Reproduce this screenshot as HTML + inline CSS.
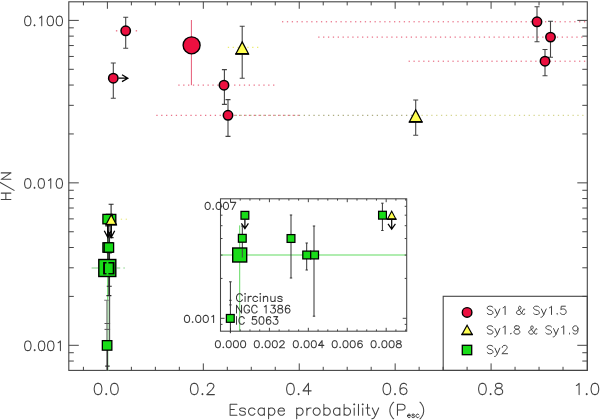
<!DOCTYPE html>
<html><head><meta charset="utf-8"><title>H/N vs escape probability</title>
<style>html,body{margin:0;padding:0;background:#fff;font-family:"Liberation Sans",sans-serif}svg{display:block}</style>
</head><body>
<svg width="600" height="420" viewBox="0 0 600 420">
<rect width="600" height="420" fill="#fff"/>
<rect x="443.2" y="296.3" width="144.1" height="74.1" fill="#fff" stroke="#454545" stroke-width="1.1"/>
<g id="dots">
<rect x="115.9" y="30.3" width="1.4" height="1.1" fill="#e4506c"/><rect x="135.7" y="30.3" width="1.4" height="1.1" fill="#e4506c"/>
<line x1="178.3" y1="85.1" x2="222" y2="85.1" stroke="#e4506c" stroke-width="1.0" stroke-dasharray="1.3 3.57" opacity="1"/>
<line x1="234.1" y1="85.1" x2="275.5" y2="85.1" stroke="#e4506c" stroke-width="1.0" stroke-dasharray="1.3 3.57" opacity="1"/>
<line x1="156.3" y1="115.3" x2="301" y2="115.3" stroke="#e4506c" stroke-width="1.0" stroke-dasharray="1.3 3.57" opacity="1"/>
<line x1="235.5" y1="115.3" x2="412" y2="115.3" stroke="#8c8c50" stroke-width="1.0" stroke-dasharray="1.3 3.57" opacity="0.9"/>
<line x1="421.5" y1="115.3" x2="584" y2="115.3" stroke="#c9c96e" stroke-width="1.0" stroke-dasharray="1.3 3.57" opacity="0.95"/>
<line x1="227.8" y1="47.3" x2="260" y2="47.3" stroke="#e6e64a" stroke-width="1.0" stroke-dasharray="1.3 3.57" opacity="1"/>
<line x1="282" y1="21.8" x2="586.3" y2="21.8" stroke="#e4506c" stroke-width="1.0" stroke-dasharray="1.3 3.57" opacity="1"/>
<line x1="318.2" y1="37.1" x2="586.3" y2="37.1" stroke="#e4506c" stroke-width="1.0" stroke-dasharray="1.3 3.57" opacity="1"/>
<line x1="408.6" y1="61.2" x2="586.3" y2="61.2" stroke="#e4506c" stroke-width="1.0" stroke-dasharray="1.3 3.57" opacity="1"/>
<line x1="120.8" y1="219.2" x2="128" y2="219.2" stroke="#e6e670" stroke-width="1.0" stroke-dasharray="1.3 3.57" opacity="1"/>
</g>
<g stroke="#454545" stroke-width="1.0" fill="none">
<rect x="68.8" y="1.8" width="518.5" height="368.6" stroke-width="1.1"/>
<path d="M83.42,370.4v-3.6M83.42,1.8v3.6M107.4,370.4v-7M107.4,1.8v7M131.38,370.4v-3.6M131.38,1.8v3.6M155.36,370.4v-3.6M155.36,1.8v3.6M179.34,370.4v-3.6M179.34,1.8v3.6M203.32,370.4v-7M203.32,1.8v7M227.3,370.4v-3.6M227.3,1.8v3.6M251.28,370.4v-3.6M251.28,1.8v3.6M275.26,370.4v-3.6M275.26,1.8v3.6M299.24,370.4v-7M299.24,1.8v7M323.22,370.4v-3.6M323.22,1.8v3.6M347.2,370.4v-3.6M347.2,1.8v3.6M371.18,370.4v-3.6M371.18,1.8v3.6M395.16,370.4v-7M395.16,1.8v7M419.14,370.4v-3.6M419.14,1.8v3.6M443.12,370.4v-3.6M443.12,1.8v3.6M467.1,370.4v-3.6M467.1,1.8v3.6M491.08,370.4v-7M491.08,1.8v7M515.06,370.4v-3.6M515.06,1.8v3.6M539.04,370.4v-3.6M539.04,1.8v3.6M563.02,370.4v-3.6M563.02,1.8v3.6M68.8,361.04h5M587.3,361.04h-5M68.8,352.73h5M587.3,352.73h-5M68.8,345.3h10M587.3,345.3h-10M68.8,296.4h5M587.3,296.4h-5M68.8,267.79h5M587.3,267.79h-5M68.8,247.5h5M587.3,247.5h-5M68.8,231.75h5M587.3,231.75h-5M68.8,218.89h5M587.3,218.89h-5M68.8,208.01h5M587.3,208.01h-5M68.8,198.59h5M587.3,198.59h-5M68.8,190.28h5M587.3,190.28h-5M68.8,182.85h10M587.3,182.85h-10M68.8,133.95h5M587.3,133.95h-5M68.8,105.34h5M587.3,105.34h-5M68.8,85.05h5M587.3,85.05h-5M68.8,69.3h5M587.3,69.3h-5M68.8,56.44h5M587.3,56.44h-5M68.8,45.56h5M587.3,45.56h-5M68.8,36.14h5M587.3,36.14h-5M68.8,27.83h5M587.3,27.83h-5M68.8,20.4h10M587.3,20.4h-10"/>
</g>
<line x1="191.4" y1="20" x2="191.4" y2="85.2" stroke="#e65a76" stroke-width="1"/>
<path d="M125.7,17.2V48.3M123.2,17.2h5M123.2,48.3h5" stroke="#444" stroke-width="1.1" fill="none"/>
<path d="M113.3,63V98.3M110.8,63h5M110.8,98.3h5" stroke="#444" stroke-width="1.1" fill="none"/>
<path d="M224.4,69.6V104.4M221.9,69.6h5M221.9,104.4h5" stroke="#444" stroke-width="1.1" fill="none"/>
<path d="M228,99.6V136.4M225.5,99.6h5M225.5,136.4h5" stroke="#444" stroke-width="1.1" fill="none"/>
<path d="M242.2,26.3V78.3M239.7,26.3h5M239.7,78.3h5" stroke="#444" stroke-width="1.1" fill="none"/>
<path d="M537,6.7V41.7M534.5,6.7h5M534.5,41.7h5" stroke="#444" stroke-width="1.1" fill="none"/>
<path d="M550.5,21.3V57.2M548,21.3h5M548,57.2h5" stroke="#444" stroke-width="1.1" fill="none"/>
<path d="M545,49.5V75.8M542.5,49.5h5M542.5,75.8h5" stroke="#444" stroke-width="1.1" fill="none"/>
<path d="M415.7,100V135.3M413.2,100h5M413.2,135.3h5" stroke="#444" stroke-width="1.1" fill="none"/>
<circle cx="125.7" cy="30.8" r="4.7" fill="#ec1040" stroke="#000" stroke-width="1.5"/>
<circle cx="113.3" cy="78.2" r="4.7" fill="#ec1040" stroke="#000" stroke-width="1.5"/>
<path d="M118.5,78.2H127.6M122,74.8L127.8,78.2L122,81.6" stroke="#000" stroke-width="1.3" fill="none"/>
<circle cx="191.6" cy="45.3" r="8.5" fill="#ec1040" stroke="#000" stroke-width="1.35"/>
<circle cx="224" cy="85.2" r="4.7" fill="#ec1040" stroke="#000" stroke-width="1.5"/>
<circle cx="228" cy="115.3" r="4.7" fill="#ec1040" stroke="#000" stroke-width="1.5"/>
<circle cx="537" cy="21.8" r="4.7" fill="#ec1040" stroke="#000" stroke-width="1.5"/>
<circle cx="550.5" cy="37.1" r="4.7" fill="#ec1040" stroke="#000" stroke-width="1.5"/>
<circle cx="545" cy="61.2" r="4.7" fill="#ec1040" stroke="#000" stroke-width="1.5"/>
<path d="M242.2,41.9L248.5,53.8H235.9Z" fill="#ffff50" stroke="#000" stroke-width="1.25" stroke-linejoin="miter"/>
<path d="M235.4,53.9H249" stroke="#000" stroke-width="1.75" fill="none"/>
<path d="M415.7,109.9L422,121.8H409.4Z" fill="#ffff50" stroke="#000" stroke-width="1.25" stroke-linejoin="miter"/>
<path d="M408.9,121.9H422.5" stroke="#000" stroke-width="1.75" fill="none"/>
<rect x="106.6" y="300.5" width="3" height="40" fill="#d4ead4"/>
<path d="M107.8,231.7V300" stroke="#55d855" stroke-width="1.1" fill="none"/>
<path d="M107.9,300V370.4" stroke="#9fd89f" stroke-width="1.2" fill="none"/>
<path d="M91.6,268h6.4M116.6,268h3.6M123.4,268h1.4" stroke="#7fcf7f" stroke-width="1.1" fill="none"/>
<path d="M106.9,300.5V370.4M104.2,300.3h4.6" stroke="#777" stroke-width="1.05" fill="none"/>
<path d="M104.5,323.5h5.6M104.5,329.4h5.6" stroke="#555" stroke-width="1" fill="none"/>
<path d="M108.9,218.6V295.6M106.4,218.6h5M106.4,295.6h5" stroke="#2a2a2a" stroke-width="1.1" fill="none"/>
<path d="M109.25,253V286.3M106.75,253h5M106.75,286.3h5" stroke="#2a2a2a" stroke-width="1.1" fill="none"/>
<path d="M109.5,232.1V296" stroke="#2a2a2a" stroke-width="1.1" fill="none"/>
<path d="M109.6,296V342.7" stroke="#505050" stroke-width="1.1" fill="none"/>
<path d="M111.1,204.3V237.6M108.6,204.3h5M108.6,237.6h5" stroke="#2a2a2a" stroke-width="1.1" fill="none"/>
<path d="M107.75,226V270.1M105.25,226h5M105.25,270.1h5" stroke="#2a2a2a" stroke-width="1.1" fill="none"/>
<path d="M107.4,350V370.4M105.2,366.2h4.5" stroke="#333" stroke-width="1.2" fill="none"/>
<rect x="102.35" y="340.65" width="9.5" height="9.5" fill="#18dc18" stroke="#000" stroke-width="1.3"/>
<rect x="102.9" y="242.8" width="9.4" height="9.4" fill="#18dc18" stroke="#000" stroke-width="1.3"/>
<rect x="104.2" y="242.8" width="9.4" height="9.4" fill="#18dc18" stroke="#000" stroke-width="1.3"/>
<rect x="106.4" y="214.4" width="9.4" height="9.4" fill="#18dc18" stroke="#000" stroke-width="1.3"/>
<rect x="102.9" y="214.4" width="9.4" height="9.4" fill="#18dc18" stroke="#000" stroke-width="1.3"/>
<rect x="98.8" y="259.5" width="17" height="17" fill="#18dc18" stroke="#000" stroke-width="1.4"/>
<rect x="103.1" y="262" width="11.4" height="12.4" fill="#000"/>
<rect x="105" y="263.5" width="7.7" height="9.6" fill="#18dc18"/>
<rect x="106.5" y="261" width="1.9" height="14.4" fill="#18dc18"/>
<path d="M107.8,224V237.4M104.3,230.8L107.8,237.4L111.3,230.8" stroke="#000" stroke-width="1.3" fill="none"/>
<path d="M111.2,224V237.4M107.7,230.8L111.2,237.4L114.7,230.8" stroke="#000" stroke-width="1.3" fill="none"/>
<path d="M111.2,214.8L116.4,224.6H106Z" fill="#ffff50" stroke="#000" stroke-width="1.2" stroke-linejoin="miter"/>
<path d="M105.5,224.7H116.9" stroke="#000" stroke-width="1.7" fill="none"/>
<rect x="220.5" y="198.8" width="186.2" height="132.4" fill="#fff" stroke="none"/>
<path d="M220.5,255H406.7M239.7,225.4V331.2" stroke="#5ad85a" stroke-width="0.95" fill="none"/>
<g stroke="#454545" stroke-width="1.1" fill="none">
<rect x="220.5" y="198.8" width="186.2" height="132.4" stroke-width="1.05"/>
<path d="M230.5,331.2v-3.4M230.5,198.8v3.4M240.23,331.2v-1.8M240.23,198.8v1.8M249.96,331.2v-1.8M249.96,198.8v1.8M259.69,331.2v-1.8M259.69,198.8v1.8M269.42,331.2v-3.4M269.42,198.8v3.4M279.15,331.2v-1.8M279.15,198.8v1.8M288.88,331.2v-1.8M288.88,198.8v1.8M298.61,331.2v-1.8M298.61,198.8v1.8M308.34,331.2v-3.4M308.34,198.8v3.4M318.07,331.2v-1.8M318.07,198.8v1.8M327.8,331.2v-1.8M327.8,198.8v1.8M337.53,331.2v-1.8M337.53,198.8v1.8M347.26,331.2v-3.4M347.26,198.8v3.4M356.99,331.2v-1.8M356.99,198.8v1.8M366.72,331.2v-1.8M366.72,198.8v1.8M376.45,331.2v-1.8M376.45,198.8v1.8M386.18,331.2v-3.4M386.18,198.8v3.4M395.91,331.2v-1.8M395.91,198.8v1.8M405.64,331.2v-1.8M405.64,198.8v1.8M220.5,324.36h2M406.7,324.36h-2M220.5,318.3h4M406.7,318.3h-4M220.5,278.41h2M406.7,278.41h-2M220.5,255.08h2M406.7,255.08h-2M220.5,238.53h2M406.7,238.53h-2M220.5,225.69h2M406.7,225.69h-2M220.5,215.19h2M406.7,215.19h-2M220.5,206.32h2M406.7,206.32h-2" stroke-width="1"/>
</g>
<path d="M230.4,281.8V333.2M229.1,281.8h2.6" stroke="#333" stroke-width="1" fill="none"/>
<path d="M229.2,300.3h2.4M229.2,304.9h2.4" stroke="#333" stroke-width="1" fill="none"/>
<path d="M242.3,226V257.5M241.1,226h2.4M241.1,257.5h2.4" stroke="#333" stroke-width="1" fill="none"/>
<path d="M291,215V278M289.8,215h2.4M289.8,278h2.4" stroke="#333" stroke-width="1" fill="none"/>
<path d="M306.7,243V270M305.5,243h2.4M305.5,270h2.4" stroke="#333" stroke-width="1" fill="none"/>
<path d="M314,226V316.2M312.8,226h2.4M312.8,316.2h2.4" stroke="#333" stroke-width="1" fill="none"/>
<path d="M382.4,203.2V230.5M381.2,203.2h2.4M381.2,230.5h2.4" stroke="#333" stroke-width="1" fill="none"/>
<rect x="226.4" y="314.5" width="7.8" height="7.8" fill="#18dc18" stroke="#000" stroke-width="1.25"/>
<rect x="232.7" y="248" width="14" height="14" fill="#18dc18" stroke="#000" stroke-width="1.4"/>
<line x1="242.3" y1="249" x2="242.3" y2="257.5" stroke="#444" stroke-width="1"/>
<rect x="238.4" y="234.4" width="7.8" height="7.8" fill="#18dc18" stroke="#000" stroke-width="1.25"/>
<rect x="241" y="211.4" width="7.8" height="7.8" fill="#18dc18" stroke="#000" stroke-width="1.25"/>
<path d="M244.9,219.5V228.6M241.4,223.3L244.9,228.6L248.4,223.3" stroke="#000" stroke-width="1.2" fill="none"/>
<rect x="287.1" y="234.6" width="7.8" height="7.8" fill="#18dc18" stroke="#000" stroke-width="1.25"/>
<rect x="302.8" y="251.1" width="7.8" height="7.8" fill="#18dc18" stroke="#000" stroke-width="1.25"/>
<rect x="310.7" y="251.1" width="7.8" height="7.8" fill="#18dc18" stroke="#000" stroke-width="1.25"/>
<rect x="378.6" y="211.3" width="7.8" height="7.8" fill="#18dc18" stroke="#000" stroke-width="1.25"/>
<path d="M391.7,219.5V229.1M388,223.8L391.7,229.1L395.4,223.8" stroke="#000" stroke-width="1.2" fill="none"/>
<path d="M391.7,211.2L395.9,219.1H387.5Z" fill="#ffff50" stroke="#000" stroke-width="1.1"/><path d="M386.9,219.2H396.5" stroke="#000" stroke-width="1.5"/>
<circle cx="467.1" cy="312.4" r="4.8" fill="#ec1040" stroke="#000" stroke-width="1.4"/>
<path d="M467.1,325.3L472.2,334.4H462Z" fill="#ffff50" stroke="#000" stroke-width="1.15"/><path d="M461.4,334.5H472.8" stroke="#000" stroke-width="1.6"/>
<rect x="462.3" y="345.3" width="9.4" height="9.4" fill="#18dc18" stroke="#000" stroke-width="1.3"/>
<g fill="none" stroke="#424242" stroke-linecap="round" stroke-linejoin="round">
<path stroke-width="1.05" d="M27.31,16.14 25.95,16.6 25.05,17.98 24.6,20.28 24.6,21.66 25.05,23.96 25.95,25.34 27.31,25.8 28.21,25.8 29.56,25.34 30.47,23.96 30.92,21.66 30.92,20.28 30.47,17.98 29.56,16.6 28.21,16.14 27.31,16.14M34.53,24.88 34.08,25.34 34.53,25.8 34.98,25.34 34.53,24.88M39.49,17.98 40.39,17.52 41.75,16.14 41.75,25.8M49.87,16.14 48.51,16.6 47.61,17.98 47.16,20.28 47.16,21.66 47.61,23.96 48.51,25.34 49.87,25.8 50.77,25.8 52.12,25.34 53.03,23.96 53.48,21.66 53.48,20.28 53.03,17.98 52.12,16.6 50.77,16.14 49.87,16.14M58.89,16.14 57.54,16.6 56.63,17.98 56.18,20.28 56.18,21.66 56.63,23.96 57.54,25.34 58.89,25.8 59.79,25.8 61.15,25.34 62.05,23.96 62.5,21.66 62.5,20.28 62.05,17.98 61.15,16.6 59.79,16.14 58.89,16.14M27.31,178.64 25.95,179.1 25.05,180.48 24.6,182.78 24.6,184.16 25.05,186.46 25.95,187.84 27.31,188.3 28.21,188.3 29.56,187.84 30.47,186.46 30.92,184.16 30.92,182.78 30.47,180.48 29.56,179.1 28.21,178.64 27.31,178.64M34.53,187.38 34.08,187.84 34.53,188.3 34.98,187.84 34.53,187.38M40.84,178.64 39.49,179.1 38.59,180.48 38.14,182.78 38.14,184.16 38.59,186.46 39.49,187.84 40.84,188.3 41.75,188.3 43.1,187.84 44,186.46 44.45,184.16 44.45,182.78 44,180.48 43.1,179.1 41.75,178.64 40.84,178.64M48.51,180.48 49.42,180.02 50.77,178.64 50.77,188.3M58.89,178.64 57.54,179.1 56.63,180.48 56.18,182.78 56.18,184.16 56.63,186.46 57.54,187.84 58.89,188.3 59.79,188.3 61.15,187.84 62.05,186.46 62.5,184.16 62.5,182.78 62.05,180.48 61.15,179.1 59.79,178.64 58.89,178.64M27.35,340.94 25.98,341.4 25.06,342.78 24.6,345.08 24.6,346.46 25.06,348.76 25.98,350.14 27.35,350.6 28.27,350.6 29.65,350.14 30.57,348.76 31.03,346.46 31.03,345.08 30.57,342.78 29.65,341.4 28.27,340.94 27.35,340.94M34.7,349.68 34.24,350.14 34.7,350.6 35.16,350.14 34.7,349.68M41.12,340.94 39.75,341.4 38.83,342.78 38.37,345.08 38.37,346.46 38.83,348.76 39.75,350.14 41.12,350.6 42.04,350.6 43.42,350.14 44.34,348.76 44.79,346.46 44.79,345.08 44.34,342.78 43.42,341.4 42.04,340.94 41.12,340.94M50.3,340.94 48.93,341.4 48.01,342.78 47.55,345.08 47.55,346.46 48.01,348.76 48.93,350.14 50.3,350.6 51.22,350.6 52.6,350.14 53.52,348.76 53.97,346.46 53.97,345.08 53.52,342.78 52.6,341.4 51.22,340.94 50.3,340.94M58.11,342.78 59.02,342.32 60.4,340.94 60.4,350.6M97.5,383.37 95.87,383.9 94.78,385.5 94.23,388.18 94.23,389.79 94.78,392.46 95.87,394.06 97.5,394.6 98.59,394.6 100.23,394.06 101.32,392.46 101.86,389.79 101.86,388.18 101.32,385.5 100.23,383.9 98.59,383.37 97.5,383.37M106.22,393.53 105.68,394.06 106.22,394.6 106.77,394.06 106.22,393.53M113.85,383.37 112.22,383.9 111.13,385.5 110.58,388.18 110.58,389.79 111.13,392.46 112.22,394.06 113.85,394.6 114.94,394.6 116.58,394.06 117.67,392.46 118.22,389.79 118.22,388.18 117.67,385.5 116.58,383.9 114.94,383.37 113.85,383.37M193.71,383.37 192.07,383.9 190.98,385.5 190.44,388.18 190.44,389.79 190.98,392.46 192.07,394.06 193.71,394.6 194.8,394.6 196.43,394.06 197.52,392.46 198.06,389.79 198.06,388.18 197.52,385.5 196.43,383.9 194.8,383.37 193.71,383.37M202.43,393.53 201.88,394.06 202.43,394.6 202.97,394.06 202.43,393.53M207.33,386.04 207.33,385.5 207.88,384.44 208.42,383.9 209.51,383.37 211.69,383.37 212.78,383.9 213.33,384.44 213.87,385.5 213.87,386.58 213.33,387.65 212.24,389.25 206.79,394.6 214.42,394.6M289.9,383.37 288.27,383.9 287.18,385.5 286.63,388.18 286.63,389.79 287.18,392.46 288.27,394.06 289.9,394.6 291,394.6 292.63,394.06 293.72,392.46 294.26,389.79 294.26,388.18 293.72,385.5 292.63,383.9 291,383.37 289.9,383.37M298.62,393.53 298.08,394.06 298.62,394.6 299.17,394.06 298.62,393.53M308.44,383.37 302.99,390.86 311.16,390.86M308.44,383.37 308.44,394.6M386.3,383.37 384.67,383.9 383.58,385.5 383.03,388.18 383.03,389.79 383.58,392.46 384.67,394.06 386.3,394.6 387.39,394.6 389.03,394.06 390.12,392.46 390.66,389.79 390.66,388.18 390.12,385.5 389.03,383.9 387.39,383.37 386.3,383.37M395.02,393.53 394.48,394.06 395.02,394.6 395.57,394.06 395.02,393.53M406.47,384.97 405.92,383.9 404.29,383.37 403.2,383.37 401.56,383.9 400.47,385.5 399.93,388.18 399.93,390.86 400.47,393 401.56,394.06 403.2,394.6 403.75,394.6 405.38,394.06 406.47,393 407.01,391.39 407.01,390.86 406.47,389.25 405.38,388.18 403.75,387.65 403.2,387.65 401.56,388.18 400.47,389.25 399.93,390.86M481.9,383.37 480.27,383.9 479.18,385.5 478.63,388.18 478.63,389.79 479.18,392.46 480.27,394.06 481.9,394.6 483,394.6 484.63,394.06 485.72,392.46 486.26,389.79 486.26,388.18 485.72,385.5 484.63,383.9 483,383.37 481.9,383.37M490.62,393.53 490.08,394.06 490.62,394.6 491.17,394.06 490.62,393.53M497.71,383.37 496.07,383.9 495.53,384.97 495.53,386.04 496.07,387.11 497.17,387.65 499.35,388.18 500.98,388.72 502.07,389.79 502.62,390.86 502.62,392.46 502.07,393.53 501.52,394.06 499.89,394.6 497.71,394.6 496.07,394.06 495.53,393.53 494.99,392.46 494.99,390.86 495.53,389.79 496.62,388.72 498.25,388.18 500.44,387.65 501.52,387.11 502.07,386.04 502.07,384.97 501.52,383.9 499.89,383.37 497.71,383.37M576.37,385.5 577.46,384.97 579.1,383.37 579.1,394.6M586.73,393.53 586.18,394.06 586.73,394.6 587.27,394.06 586.73,393.53M594.36,383.37 592.72,383.9 591.63,385.5 591.09,388.18 591.09,389.79 591.63,392.46 592.72,394.06 594.36,394.6 595.45,394.6 597.08,394.06 598.17,392.46 598.72,389.79 598.72,388.18 598.17,385.5 597.08,383.9 595.45,383.37 594.36,383.37M230.11,404.28 230.11,415.2M230.11,404.28 236.96,404.28M230.11,409.48 234.32,409.48M230.11,415.2 236.96,415.2M245.39,409.48 244.86,408.44 243.28,407.92 241.7,407.92 240.12,408.44 239.59,409.48 240.12,410.52 241.18,411.04 243.81,411.56 244.86,412.08 245.39,413.12 245.39,413.64 244.86,414.68 243.28,415.2 241.7,415.2 240.12,414.68 239.59,413.64M254.88,409.48 253.82,408.44 252.77,407.92 251.19,407.92 250.13,408.44 249.08,409.48 248.55,411.04 248.55,412.08 249.08,413.64 250.13,414.68 251.19,415.2 252.77,415.2 253.82,414.68 254.88,413.64M264.36,407.92 264.36,415.2M264.36,409.48 263.31,408.44 262.25,407.92 260.67,407.92 259.62,408.44 258.57,409.48 258.04,411.04 258.04,412.08 258.57,413.64 259.62,414.68 260.67,415.2 262.25,415.2 263.31,414.68 264.36,413.64M268.58,407.92 268.58,418.84M268.58,409.48 269.63,408.44 270.69,407.92 272.27,407.92 273.32,408.44 274.38,409.48 274.9,411.04 274.9,412.08 274.38,413.64 273.32,414.68 272.27,415.2 270.69,415.2 269.63,414.68 268.58,413.64M278.06,411.04 284.39,411.04 284.39,410 283.86,408.96 283.33,408.44 282.28,407.92 280.7,407.92 279.65,408.44 278.59,409.48 278.06,411.04 278.06,412.08 278.59,413.64 279.65,414.68 280.7,415.2 282.28,415.2 283.33,414.68 284.39,413.64M296.7,407.92 296.7,418.84M296.7,409.48 297.76,408.44 298.83,407.92 300.43,407.92 301.49,408.44 302.56,409.48 303.09,411.04 303.09,412.08 302.56,413.64 301.49,414.68 300.43,415.2 298.83,415.2 297.76,414.68 296.7,413.64M306.82,407.92 306.82,415.2M306.82,411.04 307.35,409.48 308.41,408.44 309.48,407.92 311.08,407.92M315.87,407.92 314.8,408.44 313.74,409.48 313.21,411.04 313.21,412.08 313.74,413.64 314.8,414.68 315.87,415.2 317.47,415.2 318.53,414.68 319.6,413.64 320.13,412.08 320.13,411.04 319.6,409.48 318.53,408.44 317.47,407.92 315.87,407.92M323.86,404.28 323.86,415.2M323.86,409.48 324.92,408.44 325.99,407.92 327.58,407.92 328.65,408.44 329.71,409.48 330.25,411.04 330.25,412.08 329.71,413.64 328.65,414.68 327.58,415.2 325.99,415.2 324.92,414.68 323.86,413.64M339.83,407.92 339.83,415.2M339.83,409.48 338.76,408.44 337.7,407.92 336.1,407.92 335.04,408.44 333.97,409.48 333.44,411.04 333.44,412.08 333.97,413.64 335.04,414.68 336.1,415.2 337.7,415.2 338.76,414.68 339.83,413.64M344.09,404.28 344.09,415.2M344.09,409.48 345.15,408.44 346.22,407.92 347.82,407.92 348.88,408.44 349.95,409.48 350.48,411.04 350.48,412.08 349.95,413.64 348.88,414.68 347.82,415.2 346.22,415.2 345.15,414.68 344.09,413.64M353.67,404.28 354.21,404.8 354.74,404.28 354.21,403.76 353.67,404.28M354.21,407.92 354.21,415.2M358.47,404.28 358.47,415.2M362.19,404.28 362.73,404.8 363.26,404.28 362.73,403.76 362.19,404.28M362.73,407.92 362.73,415.2M367.52,404.28 367.52,413.12 368.05,414.68 369.12,415.2 370.18,415.2M365.92,407.92 369.65,407.92M372.31,407.92 375.51,415.2M378.7,407.92 375.51,415.2 374.44,417.28 373.38,418.32 372.31,418.84 371.78,418.84M393.68,402.2 392.6,403.24 391.52,404.8 390.44,406.88 389.9,409.48 389.9,411.56 390.44,414.16 391.52,416.24 392.6,417.8 393.68,418.84M397.45,404.28 397.45,415.2M397.45,404.28 402.3,404.28 403.92,404.8 404.46,405.32 405,406.36 405,407.92 404.46,408.96 403.92,409.48 402.3,410 397.45,410M419.96,402.2 421.01,403.24 422.06,404.8 423.12,406.88 423.64,409.48 423.64,411.56 423.12,414.16 422.06,416.24 421.01,417.8 419.96,418.84M1.24,199.56 10.9,199.56M1.24,193.12 10.9,193.12M5.84,199.56 5.84,193.12M-0.6,182.08 14.12,190.36M1.24,179.32 10.9,179.32M1.24,179.32 10.9,172.88M1.24,172.88 10.9,172.88"/>
<path stroke-width="1.05" stroke="#3a3a3a" d="M207.29,202.37 206.2,202.7 205.47,203.71 205.1,205.38 205.1,206.39 205.47,208.06 206.2,209.06 207.29,209.4 208.02,209.4 209.12,209.06 209.85,208.06 210.22,206.39 210.22,205.38 209.85,203.71 209.12,202.7 208.02,202.37 207.29,202.37M213.14,208.73 212.78,209.06 213.14,209.4 213.51,209.06 213.14,208.73M218.26,202.37 217.16,202.7 216.43,203.71 216.06,205.38 216.06,206.39 216.43,208.06 217.16,209.06 218.26,209.4 218.99,209.4 220.08,209.06 220.82,208.06 221.18,206.39 221.18,205.38 220.82,203.71 220.08,202.7 218.99,202.37 218.26,202.37M225.57,202.37 224.47,202.7 223.74,203.71 223.37,205.38 223.37,206.39 223.74,208.06 224.47,209.06 225.57,209.4 226.3,209.4 227.39,209.06 228.13,208.06 228.49,206.39 228.49,205.38 228.13,203.71 227.39,202.7 226.3,202.37 225.57,202.37M235.8,202.37 232.15,209.4M230.68,202.37 235.8,202.37M186.65,315.36 185.52,315.7 184.77,316.7 184.4,318.38 184.4,319.38 184.77,321.06 185.52,322.06 186.65,322.4 187.39,322.4 188.52,322.06 189.27,321.06 189.64,319.38 189.64,318.38 189.27,316.7 188.52,315.7 187.39,315.36 186.65,315.36M192.64,321.73 192.26,322.06 192.64,322.4 193.01,322.06 192.64,321.73M197.88,315.36 196.75,315.7 196.01,316.7 195.63,318.38 195.63,319.38 196.01,321.06 196.75,322.06 197.88,322.4 198.63,322.4 199.75,322.06 200.5,321.06 200.87,319.38 200.87,318.38 200.5,316.7 199.75,315.7 198.63,315.36 197.88,315.36M205.36,315.36 204.24,315.7 203.49,316.7 203.12,318.38 203.12,319.38 203.49,321.06 204.24,322.06 205.36,322.4 206.11,322.4 207.24,322.06 207.98,321.06 208.36,319.38 208.36,318.38 207.98,316.7 207.24,315.7 206.11,315.36 205.36,315.36M211.73,316.7 212.48,316.37 213.6,315.36 213.6,322.4M217.54,340.66 216.46,341 215.74,342 215.38,343.68 215.38,344.69 215.74,346.36 216.46,347.37 217.54,347.7 218.26,347.7 219.34,347.37 220.06,346.36 220.42,344.69 220.42,343.68 220.06,342 219.34,341 218.26,340.66 217.54,340.66M223.3,347.03 222.94,347.37 223.3,347.7 223.66,347.37 223.3,347.03M228.34,340.66 227.26,341 226.54,342 226.18,343.68 226.18,344.69 226.54,346.36 227.26,347.37 228.34,347.7 229.06,347.7 230.14,347.37 230.86,346.36 231.22,344.69 231.22,343.68 230.86,342 230.14,341 229.06,340.66 228.34,340.66M235.54,340.66 234.46,341 233.74,342 233.38,343.68 233.38,344.69 233.74,346.36 234.46,347.37 235.54,347.7 236.26,347.7 237.34,347.37 238.06,346.36 238.42,344.69 238.42,343.68 238.06,342 237.34,341 236.26,340.66 235.54,340.66M242.74,340.66 241.66,341 240.94,342 240.58,343.68 240.58,344.69 240.94,346.36 241.66,347.37 242.74,347.7 243.46,347.7 244.54,347.37 245.26,346.36 245.62,344.69 245.62,343.68 245.26,342 244.54,341 243.46,340.66 242.74,340.66M256.44,340.66 255.36,341 254.64,342 254.28,343.68 254.28,344.69 254.64,346.36 255.36,347.37 256.44,347.7 257.16,347.7 258.24,347.37 258.96,346.36 259.32,344.69 259.32,343.68 258.96,342 258.24,341 257.16,340.66 256.44,340.66M262.2,347.03 261.84,347.37 262.2,347.7 262.56,347.37 262.2,347.03M267.24,340.66 266.16,341 265.44,342 265.08,343.68 265.08,344.69 265.44,346.36 266.16,347.37 267.24,347.7 267.96,347.7 269.04,347.37 269.76,346.36 270.12,344.69 270.12,343.68 269.76,342 269.04,341 267.96,340.66 267.24,340.66M274.44,340.66 273.36,341 272.64,342 272.28,343.68 272.28,344.69 272.64,346.36 273.36,347.37 274.44,347.7 275.16,347.7 276.24,347.37 276.96,346.36 277.32,344.69 277.32,343.68 276.96,342 276.24,341 275.16,340.66 274.44,340.66M279.84,342.34 279.84,342 280.2,341.33 280.56,341 281.28,340.66 282.72,340.66 283.44,341 283.8,341.33 284.16,342 284.16,342.68 283.8,343.34 283.08,344.35 279.48,347.7 284.52,347.7M295.44,340.66 294.36,341 293.64,342 293.28,343.68 293.28,344.69 293.64,346.36 294.36,347.37 295.44,347.7 296.16,347.7 297.24,347.37 297.96,346.36 298.32,344.69 298.32,343.68 297.96,342 297.24,341 296.16,340.66 295.44,340.66M301.2,347.03 300.84,347.37 301.2,347.7 301.56,347.37 301.2,347.03M306.24,340.66 305.16,341 304.44,342 304.08,343.68 304.08,344.69 304.44,346.36 305.16,347.37 306.24,347.7 306.96,347.7 308.04,347.37 308.76,346.36 309.12,344.69 309.12,343.68 308.76,342 308.04,341 306.96,340.66 306.24,340.66M313.44,340.66 312.36,341 311.64,342 311.28,343.68 311.28,344.69 311.64,346.36 312.36,347.37 313.44,347.7 314.16,347.7 315.24,347.37 315.96,346.36 316.32,344.69 316.32,343.68 315.96,342 315.24,341 314.16,340.66 313.44,340.66M322.08,340.66 318.48,345.35 323.88,345.35M322.08,340.66 322.08,347.7M334.34,340.66 333.26,341 332.54,342 332.18,343.68 332.18,344.69 332.54,346.36 333.26,347.37 334.34,347.7 335.06,347.7 336.14,347.37 336.86,346.36 337.22,344.69 337.22,343.68 336.86,342 336.14,341 335.06,340.66 334.34,340.66M340.1,347.03 339.74,347.37 340.1,347.7 340.46,347.37 340.1,347.03M345.14,340.66 344.06,341 343.34,342 342.98,343.68 342.98,344.69 343.34,346.36 344.06,347.37 345.14,347.7 345.86,347.7 346.94,347.37 347.66,346.36 348.02,344.69 348.02,343.68 347.66,342 346.94,341 345.86,340.66 345.14,340.66M352.34,340.66 351.26,341 350.54,342 350.18,343.68 350.18,344.69 350.54,346.36 351.26,347.37 352.34,347.7 353.06,347.7 354.14,347.37 354.86,346.36 355.22,344.69 355.22,343.68 354.86,342 354.14,341 353.06,340.66 352.34,340.66M362.06,341.67 361.7,341 360.62,340.66 359.9,340.66 358.82,341 358.1,342 357.74,343.68 357.74,345.35 358.1,346.69 358.82,347.37 359.9,347.7 360.26,347.7 361.34,347.37 362.06,346.69 362.42,345.69 362.42,345.35 362.06,344.35 361.34,343.68 360.26,343.34 359.9,343.34 358.82,343.68 358.1,344.35 357.74,345.35M373.24,340.66 372.16,341 371.44,342 371.08,343.68 371.08,344.69 371.44,346.36 372.16,347.37 373.24,347.7 373.96,347.7 375.04,347.37 375.76,346.36 376.12,344.69 376.12,343.68 375.76,342 375.04,341 373.96,340.66 373.24,340.66M379,347.03 378.64,347.37 379,347.7 379.36,347.37 379,347.03M384.04,340.66 382.96,341 382.24,342 381.88,343.68 381.88,344.69 382.24,346.36 382.96,347.37 384.04,347.7 384.76,347.7 385.84,347.37 386.56,346.36 386.92,344.69 386.92,343.68 386.56,342 385.84,341 384.76,340.66 384.04,340.66M391.24,340.66 390.16,341 389.44,342 389.08,343.68 389.08,344.69 389.44,346.36 390.16,347.37 391.24,347.7 391.96,347.7 393.04,347.37 393.76,346.36 394.12,344.69 394.12,343.68 393.76,342 393.04,341 391.96,340.66 391.24,340.66M398.08,340.66 397,341 396.64,341.67 396.64,342.34 397,343.01 397.72,343.34 399.16,343.68 400.24,344.01 400.96,344.69 401.32,345.35 401.32,346.36 400.96,347.03 400.6,347.37 399.52,347.7 398.08,347.7 397,347.37 396.64,347.03 396.28,346.36 396.28,345.35 396.64,344.69 397.36,344.01 398.44,343.68 399.88,343.34 400.6,343.01 400.96,342.34 400.96,341.67 400.6,341 399.52,340.66 398.08,340.66M242.35,295.66 241.96,294.93 241.18,294.2 240.4,293.83 238.84,293.83 238.06,294.2 237.28,294.93 236.89,295.66 236.5,296.75 236.5,298.58 236.89,299.68 237.28,300.4 238.06,301.13 238.84,301.5 240.4,301.5 241.18,301.13 241.96,300.4 242.35,299.68M244.68,293.83 245.07,294.2 245.46,293.83 245.07,293.47 244.68,293.83M245.07,296.39 245.07,301.5M248.19,296.39 248.19,301.5M248.19,298.58 248.58,297.49 249.36,296.75 250.14,296.39 251.31,296.39M257.55,297.49 256.77,296.75 255.99,296.39 254.82,296.39 254.04,296.75 253.26,297.49 252.87,298.58 252.87,299.31 253.26,300.4 254.04,301.13 254.82,301.5 255.99,301.5 256.77,301.13 257.55,300.4M259.88,293.83 260.27,294.2 260.66,293.83 260.27,293.47 259.88,293.83M260.27,296.39 260.27,301.5M263.39,296.39 263.39,301.5M263.39,297.85 264.56,296.75 265.34,296.39 266.51,296.39 267.29,296.75 267.68,297.85 267.68,301.5M270.8,296.39 270.8,300.04 271.19,301.13 271.97,301.5 273.14,301.5 273.92,301.13 275.08,300.04M275.08,296.39 275.08,301.5M282.1,297.49 281.71,296.75 280.54,296.39 279.37,296.39 278.2,296.75 277.81,297.49 278.2,298.21 278.98,298.58 280.93,298.94 281.71,299.31 282.1,300.04 282.1,300.4 281.71,301.13 280.54,301.5 279.37,301.5 278.2,301.13 277.81,300.4M236.5,305.33 236.5,313M236.5,305.33 241.56,313M241.56,305.33 241.56,313M249.51,307.16 249.15,306.43 248.43,305.7 247.71,305.33 246.26,305.33 245.54,305.7 244.81,306.43 244.45,307.16 244.09,308.25 244.09,310.08 244.45,311.18 244.81,311.9 245.54,312.63 246.26,313 247.71,313 248.43,312.63 249.15,311.9 249.51,311.18 249.51,310.08M247.71,310.08 249.51,310.08M257.1,307.16 256.74,306.43 256.02,305.7 255.3,305.33 253.85,305.33 253.13,305.7 252.41,306.43 252.04,307.16 251.68,308.25 251.68,310.08 252.04,311.18 252.41,311.9 253.13,312.63 253.85,313 255.3,313 256.02,312.63 256.74,311.9 257.1,311.18M264.33,306.8 265.06,306.43 266.14,305.33 266.14,313M271.2,305.33 275.18,305.33 273.01,308.25 274.09,308.25 274.82,308.62 275.18,308.99 275.54,310.08 275.54,310.81 275.18,311.9 274.46,312.63 273.37,313 272.29,313 271.2,312.63 270.84,312.27 270.48,311.54M279.52,305.33 278.43,305.7 278.07,306.43 278.07,307.16 278.43,307.89 279.16,308.25 280.6,308.62 281.69,308.99 282.41,309.71 282.77,310.44 282.77,311.54 282.41,312.27 282.05,312.63 280.96,313 279.52,313 278.43,312.63 278.07,312.27 277.71,311.54 277.71,310.44 278.07,309.71 278.79,308.99 279.88,308.62 281.32,308.25 282.05,307.89 282.41,307.16 282.41,306.43 282.05,305.7 280.96,305.33 279.52,305.33M289.64,306.43 289.28,305.7 288.19,305.33 287.47,305.33 286.39,305.7 285.66,306.8 285.3,308.62 285.3,310.44 285.66,311.9 286.39,312.63 287.47,313 287.83,313 288.92,312.63 289.64,311.9 290,310.81 290,310.44 289.64,309.35 288.92,308.62 287.83,308.25 287.47,308.25 286.39,308.62 285.66,309.35 285.3,310.44M236.5,316.63 236.5,324.3M244.24,318.46 243.89,317.73 243.18,317 242.48,316.63 241.07,316.63 240.37,317 239.67,317.73 239.31,318.46 238.96,319.56 238.96,321.38 239.31,322.48 239.67,323.2 240.37,323.94 241.07,324.3 242.48,324.3 243.18,323.94 243.89,323.2 244.24,322.48M256.19,316.63 252.68,316.63 252.33,319.92 252.68,319.56 253.73,319.19 254.79,319.19 255.84,319.56 256.55,320.29 256.9,321.38 256.9,322.11 256.55,323.2 255.84,323.94 254.79,324.3 253.73,324.3 252.68,323.94 252.33,323.57 251.97,322.84M261.12,316.63 260.06,317 259.36,318.1 259.01,319.92 259.01,321.01 259.36,322.84 260.06,323.94 261.12,324.3 261.82,324.3 262.88,323.94 263.58,322.84 263.93,321.01 263.93,319.92 263.58,318.1 262.88,317 261.82,316.63 261.12,316.63M270.61,317.73 270.26,317 269.21,316.63 268.5,316.63 267.45,317 266.75,318.1 266.39,319.92 266.39,321.75 266.75,323.2 267.45,323.94 268.5,324.3 268.86,324.3 269.91,323.94 270.61,323.2 270.97,322.11 270.97,321.75 270.61,320.65 269.91,319.92 268.86,319.56 268.5,319.56 267.45,319.92 266.75,320.65 266.39,321.75M273.78,316.63 277.65,316.63 275.54,319.56 276.59,319.56 277.3,319.92 277.65,320.29 278,321.38 278,322.11 277.65,323.2 276.94,323.94 275.89,324.3 274.83,324.3 273.78,323.94 273.43,323.57 273.08,322.84"/>
<path stroke-width="1.0" d="M492.92,307.39 492.11,306.6 490.88,306.2 489.26,306.2 488.04,306.6 487.22,307.39 487.22,308.18 487.63,308.97 488.04,309.37 488.85,309.76 491.29,310.55 492.11,310.94 492.51,311.34 492.92,312.13 492.92,313.31 492.11,314.11 490.88,314.5 489.26,314.5 488.04,314.11 487.22,313.31M494.95,308.97 497.4,314.5M499.84,308.97 497.4,314.5 496.58,316.08 495.77,316.87 494.95,317.26 494.55,317.26M503.09,307.79 503.91,307.39 505.13,306.2 505.13,314.5M524.66,309.76 524.66,309.37 524.26,308.97 523.85,308.97 523.44,309.37 523.04,310.15 522.22,312.13 521.41,313.31 520.6,314.11 519.78,314.5 518.15,314.5 517.34,314.11 516.93,313.71 516.52,312.92 516.52,312.13 516.93,311.34 517.34,310.94 520.19,309.37 520.6,308.97 521,308.18 521,307.39 520.6,306.6 519.78,306.2 518.97,306.6 518.56,307.39 518.56,308.18 518.97,309.37 519.78,310.55 521.82,313.31 522.63,314.11 523.44,314.5 524.26,314.5 524.66,314.11 524.66,313.71M539.32,307.39 538.5,306.6 537.28,306.2 535.65,306.2 534.43,306.6 533.62,307.39 533.62,308.18 534.03,308.97 534.43,309.37 535.25,309.76 537.69,310.55 538.5,310.94 538.91,311.34 539.32,312.13 539.32,313.31 538.5,314.11 537.28,314.5 535.65,314.5 534.43,314.11 533.62,313.31M541.35,308.97 543.79,314.5M546.24,308.97 543.79,314.5 542.98,316.08 542.17,316.87 541.35,317.26 540.94,317.26M549.49,307.79 550.31,307.39 551.53,306.2 551.53,314.5M557.23,313.71 556.82,314.11 557.23,314.5 557.63,314.11 557.23,313.71M565.37,306.2 561.29,306.2 560.89,309.76 561.29,309.37 562.52,308.97 563.74,308.97 564.96,309.37 565.77,310.15 566.18,311.34 566.18,312.13 565.77,313.31 564.96,314.11 563.74,314.5 562.52,314.5 561.29,314.11 560.89,313.71 560.48,312.92M492.92,326.99 492.11,326.2 490.88,325.81 489.26,325.81 488.04,326.2 487.22,326.99 487.22,327.78 487.63,328.57 488.04,328.97 488.85,329.36 491.29,330.15 492.11,330.55 492.51,330.94 492.92,331.73 492.92,332.92 492.11,333.71 490.88,334.1 489.26,334.1 488.04,333.71 487.22,332.92M494.95,328.57 497.4,334.1M499.84,328.57 497.4,334.1 496.58,335.68 495.77,336.47 494.95,336.87 494.55,336.87M503.09,327.39 503.91,326.99 505.13,325.81 505.13,334.1M510.83,333.31 510.42,333.71 510.83,334.1 511.23,333.71 510.83,333.31M516.12,325.81 514.9,326.2 514.49,326.99 514.49,327.78 514.9,328.57 515.71,328.97 517.34,329.36 518.56,329.75 519.37,330.55 519.78,331.34 519.78,332.52 519.37,333.31 518.97,333.71 517.75,334.1 516.12,334.1 514.9,333.71 514.49,333.31 514.08,332.52 514.08,331.34 514.49,330.55 515.3,329.75 516.52,329.36 518.15,328.97 518.97,328.57 519.37,327.78 519.37,326.99 518.97,326.2 517.75,325.81 516.12,325.81M536.88,329.36 536.88,328.97 536.47,328.57 536.06,328.57 535.65,328.97 535.25,329.75 534.43,331.73 533.62,332.92 532.8,333.71 531.99,334.1 530.36,334.1 529.55,333.71 529.14,333.31 528.74,332.52 528.74,331.73 529.14,330.94 529.55,330.55 532.4,328.97 532.8,328.57 533.21,327.78 533.21,326.99 532.8,326.2 531.99,325.81 531.18,326.2 530.77,326.99 530.77,327.78 531.18,328.97 531.99,330.15 534.03,332.92 534.84,333.71 535.65,334.1 536.47,334.1 536.88,333.71 536.88,333.31M551.53,326.99 550.71,326.2 549.49,325.81 547.86,325.81 546.64,326.2 545.83,326.99 545.83,327.78 546.24,328.57 546.64,328.97 547.46,329.36 549.9,330.15 550.71,330.55 551.12,330.94 551.53,331.73 551.53,332.92 550.71,333.71 549.49,334.1 547.86,334.1 546.64,333.71 545.83,332.92M553.56,328.57 556,334.1M558.45,328.57 556,334.1 555.19,335.68 554.38,336.47 553.56,336.87 553.15,336.87M561.7,327.39 562.52,326.99 563.74,325.81 563.74,334.1M569.43,333.31 569.03,333.71 569.43,334.1 569.84,333.71 569.43,333.31M577.98,328.57 577.58,329.75 576.76,330.55 575.54,330.94 575.13,330.94 573.91,330.55 573.1,329.75 572.69,328.57 572.69,328.18 573.1,326.99 573.91,326.2 575.13,325.81 575.54,325.81 576.76,326.2 577.58,326.99 577.98,328.57 577.98,330.55 577.58,332.52 576.76,333.71 575.54,334.1 574.73,334.1 573.5,333.71 573.1,332.92M492.92,346.59 492.11,345.8 490.88,345.4 489.26,345.4 488.04,345.8 487.22,346.59 487.22,347.38 487.63,348.17 488.04,348.56 488.85,348.96 491.29,349.75 492.11,350.14 492.51,350.54 492.92,351.33 492.92,352.51 492.11,353.31 490.88,353.7 489.26,353.7 488.04,353.31 487.22,352.51M494.95,348.17 497.4,353.7M499.84,348.17 497.4,353.7 496.58,355.28 495.77,356.07 494.95,356.46 494.55,356.46M502.28,347.38 502.28,346.99 502.69,346.19 503.09,345.8 503.91,345.4 505.54,345.4 506.35,345.8 506.76,346.19 507.16,346.99 507.16,347.77 506.76,348.56 505.94,349.75 501.87,353.7 507.57,353.7"/>
<path stroke-width="1.0" stroke="#2a2a2a" d="M407.5,415.64 410.41,415.64 410.41,415.15 410.17,414.66 409.93,414.42 409.44,414.17 408.71,414.17 408.23,414.42 407.74,414.91 407.5,415.64 407.5,416.13 407.74,416.87 408.23,417.36 408.71,417.6 409.44,417.6 409.93,417.36 410.41,416.87M414.53,414.91 414.29,414.42 413.56,414.17 412.84,414.17 412.11,414.42 411.87,414.91 412.11,415.4 412.59,415.64 413.81,415.89 414.29,416.13 414.53,416.62 414.53,416.87 414.29,417.36 413.56,417.6 412.84,417.6 412.11,417.36 411.87,416.87M418.9,414.91 418.41,414.42 417.93,414.17 417.2,414.17 416.72,414.42 416.23,414.91 415.99,415.64 415.99,416.13 416.23,416.87 416.72,417.36 417.2,417.6 417.93,417.6 418.41,417.36 418.9,416.87"/>
</g>
</svg>
</body></html>
